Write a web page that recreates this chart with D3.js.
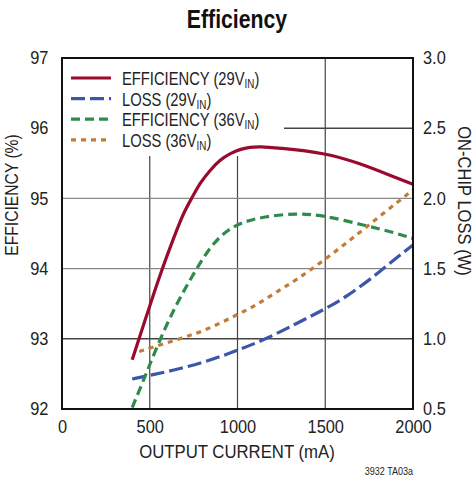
<!DOCTYPE html>
<html><head><meta charset="utf-8">
<script src="https://cdn.jsdelivr.net/npm/d3@7"></script>
<style>body{margin:0;background:#fff}svg text{font-family:"Liberation Sans Narrow","Arial Narrow","Liberation Sans",sans-serif;fill:#222}</style>
</head><body><svg id="c" width="474" height="478"></svg>
<script>
const xTicks = [0, 500, 1000, 1500, 2000];
const yLeftTicks = [92, 93, 94, 95, 96, 97];
const yRightTicks = [0.5, 1.0, 1.5, 2.0, 2.5, 3.0];
const effCurrent29 = [400, 492, 568, 634, 691, 739, 786, 843, 900, 957, 1014, 1071, 1128, 1223, 1499, 1698, 1888, 2000];
const eff29 = [92.70, 93.41, 93.98, 94.42, 94.79, 95.00, 95.22, 95.40, 95.55, 95.64, 95.70, 95.73, 95.74, 95.72, 95.65, 95.50, 95.31, 95.20];
const effCurrent36 = [400, 473, 549, 644, 739, 834, 929, 1024, 1147, 1337, 1489, 1717, 1869, 2000];
const eff36 = [92.02, 92.46, 92.94, 93.46, 93.88, 94.28, 94.53, 94.66, 94.74, 94.79, 94.76, 94.62, 94.53, 94.43];
const lossCurrent29 = [400, 463, 634, 824, 995, 1166, 1337, 1489, 1622, 1774, 1888, 2000];
const loss29 = [0.714, 0.730, 0.775, 0.837, 0.915, 1.000, 1.110, 1.205, 1.300, 1.440, 1.560, 1.668];
const lossCurrent36 = [440, 672, 824, 995, 1109, 1223, 1337, 1508, 1679, 1831, 2000];
const loss36 = [0.910, 1.000, 1.063, 1.170, 1.240, 1.335, 1.420, 1.573, 1.740, 1.894, 2.060];
const legendLabels = [["EFFICIENCY (29V", "IN", ")"], ["LOSS (29V", "IN", ")"], ["EFFICIENCY (36V", "IN", ")"], ["LOSS (36V", "IN", ")"]];

const svg = d3.select("#c");
const L = 62, R = 413, T = 58, B = 409;
const x = d3.scaleLinear().domain([0, 2000]).range([L, R]);
const yL = d3.scaleLinear().domain([92, 97]).range([B, T]);
const yR = d3.scaleLinear().domain([0.5, 3.0]).range([B, T]);

function txt(px, py, s, size, anchor, sx, rot) {
  return svg.append("text")
    .attr("transform", `translate(${px},${py})${rot ? ` rotate(${rot})` : ""} scale(${sx},1)`)
    .attr("text-anchor", anchor).style("font-size", size).text(s);
}

txt(237, 28, "Efficiency", "25px", "middle", 0.85).style("font-weight", "bold").style("fill", "#111");

// grid
const g = svg.append("g");
g.selectAll(".vg").data(xTicks.slice(1, -1)).join("line")
  .attr("x1", d => x(d)).attr("x2", d => x(d)).attr("y1", T).attr("y2", B)
  .attr("stroke", "#444").attr("stroke-width", 1.2);
g.selectAll(".hg").data(yLeftTicks.slice(1, -1)).join("line")
  .attr("x1", L).attr("x2", R).attr("y1", d => yL(d)).attr("y2", d => yL(d))
  .attr("stroke", d => (d === 94 || d === 95) ? "#888" : "#444").attr("stroke-width", 1.4);

// legend background
svg.append("rect").attr("x", L + 1).attr("y", T + 1).attr("width", 283 - L).attr("height", 155 - T).attr("fill", "#fff");

// axes
const fs = "18px";
const axB = svg.append("g").attr("transform", `translate(0,${B})`).call(d3.axisBottom(x).tickValues(xTicks).tickSize(0).tickPadding(11).tickFormat(d3.format("d")));
const axL = svg.append("g").attr("transform", `translate(${L},0)`).call(d3.axisLeft(yL).tickValues(yLeftTicks).tickSize(0).tickPadding(15).tickFormat(d3.format("d")));
const axR = svg.append("g").attr("transform", `translate(${R},0)`).call(d3.axisRight(yR).tickValues(yRightTicks).tickSize(0).tickPadding(11).tickFormat(d3.format(".1f")));
[axB, axL, axR].forEach(a => {
  a.select(".domain").remove();
  a.selectAll("text").style("font-size", fs).attr("font-family", null).attr("transform", "scale(0.91,1)");
});

txt(237, 458, "OUTPUT CURRENT (mA)", fs, "middle", 0.93);
txt(18, 195, "EFFICIENCY (%)", fs, "middle", 0.87, -90);
txt(458, 201, "ON-CHIP LOSS (W)", fs, "middle", 0.92, 90);
txt(413, 475, "3932 TA03a", "10px", "end", 0.9);

// series
const series = [
  {xs: effCurrent29, ys: eff29, y: yL, color: "#9a0a2c", dash: null},
  {xs: lossCurrent29, ys: loss29, y: yR, color: "#3c56a8", dash: "14,5"},
  {xs: effCurrent36, ys: eff36, y: yL, color: "#2f8a4b", dash: "9,5"},
  {xs: lossCurrent36, ys: loss36, y: yR, color: "#c27c35", dash: "5,5"}
];
svg.append("clipPath").attr("id", "pc").append("rect").attr("x", L).attr("y", T).attr("width", R - L).attr("height", B - T);
series.forEach(s => {
  const line = d3.line().x(d => x(d[0])).y(d => s.y(d[1])).curve(d3.curveBasis);
  svg.append("path").datum(s.xs.map((v, i) => [v, s.ys[i]])).attr("d", line)
    .attr("fill", "none").attr("stroke", s.color).attr("stroke-width", 3.2)
    .attr("stroke-dasharray", s.dash).attr("clip-path", "url(#pc)");
});

// frame
svg.append("rect").attr("x", L).attr("y", T).attr("width", R - L).attr("height", B - T)
  .attr("fill", "none").attr("stroke", "#111").attr("stroke-width", 2);

// legend
const lg = svg.append("g");
legendLabels.forEach((lab, i) => {
  const yy = 78 + i * 20.6;
  const s = series[i];
  lg.append("line").attr("x1", 71).attr("x2", 111).attr("y1", yy).attr("y2", yy)
    .attr("stroke", s.color).attr("stroke-width", 3.2).attr("stroke-dasharray", s.dash);
  const t = lg.append("text").attr("transform", `translate(122,${yy + 7}) scale(0.82,1)`).style("font-size", fs);
  t.append("tspan").text(lab[0]);
  t.append("tspan").attr("dy", 3).style("font-size", "12px").text(lab[1]);
  t.append("tspan").attr("dy", -3).text(lab[2]);
});
</script></body></html>
